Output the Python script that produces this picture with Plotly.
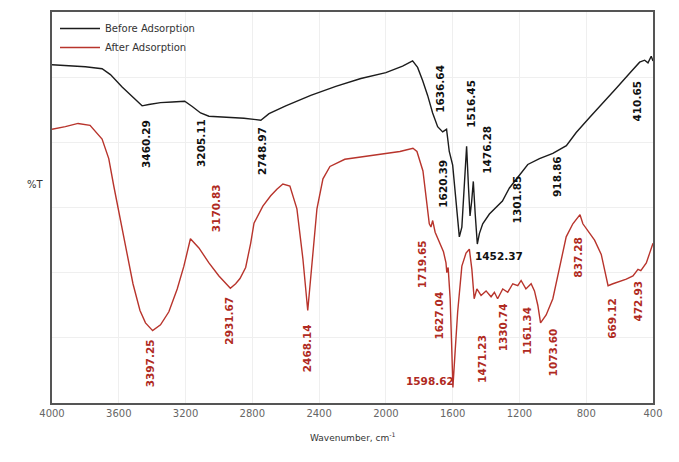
import plotly.graph_objects as go

# FTIR spectra: wavenumber (cm-1) vs transmittance (%T, arbitrary offset scale)
before_wn = [4000, 3900, 3800, 3700, 3650, 3580, 3520, 3460.29, 3420, 3350, 3280, 3205.11,
             3160, 3110, 3060, 2950, 2850, 2748.97, 2700, 2600, 2450, 2300, 2150, 2000, 1900,
             1840, 1810, 1780, 1750, 1720, 1690, 1660, 1636.64, 1628, 1620.39, 1600, 1580,
             1560, 1545, 1530, 1516.45, 1505, 1496, 1486, 1476.28, 1465, 1452.37, 1440, 1420,
             1380, 1340, 1301.85, 1260, 1200, 1150, 1080, 1000, 918.86, 860, 780, 700, 620,
             540, 480, 450, 430, 410.65, 400]
before_t = [51.9, 51.8, 51.6, 51.3, 50.4, 48.5, 47.0, 45.6, 45.8, 46.1, 46.2, 46.3,
            45.5, 44.5, 44.0, 43.8, 43.7, 43.4, 44.4, 45.6, 47.2, 48.6, 49.8, 50.7, 51.7,
            52.5, 51.5, 49.5, 47.2, 44.5, 42.4, 41.6, 42.0, 40.2, 38.6, 36.5, 31.5,
            25.5, 27.0, 33.0, 39.4, 33.0, 28.7, 31.0, 34.0, 29.0, 24.4, 26.0, 27.5,
            29.0, 30.0, 31.0, 33.0, 35.0, 36.6, 37.5, 38.3, 39.5, 41.5, 43.8, 46.0, 48.3,
            50.6, 52.3, 52.6, 52.2, 53.2, 52.5]

after_wn = [4000, 3920, 3844, 3772, 3700, 3660, 3630, 3593, 3551, 3515, 3473, 3440, 3397.25,
            3350, 3300, 3250, 3210, 3170.83, 3120, 3060, 3000, 2960, 2931.67, 2900, 2874, 2840,
            2810, 2790, 2737, 2690, 2653, 2617, 2575, 2533, 2497, 2468.14, 2413, 2377, 2335,
            2246, 2096, 1916, 1838, 1814, 1778, 1760, 1740, 1730, 1719.65, 1705, 1680, 1655,
            1640, 1635, 1627.04, 1615, 1605, 1598.62, 1585, 1570, 1545, 1520, 1500, 1485,
            1471.23, 1455, 1430, 1400, 1370, 1350, 1330.74, 1300, 1270, 1240, 1210, 1190,
            1161.34, 1130, 1110, 1090, 1073.60, 1040, 1000, 960, 920, 880, 850, 837.28, 820,
            790, 750, 710, 690, 669.12, 640, 600, 560, 520, 490, 472.93, 440, 420, 400]
after_t = [42.0, 42.4, 42.9, 42.6, 40.5, 37.5, 33.3, 28.4, 23.4, 18.3, 14.2, 12.3, 11.1,
           12.0, 14.0, 17.5, 21.0, 25.2, 23.8, 21.5, 19.5, 18.3, 17.6, 18.3, 19.1, 20.8,
           24.5, 27.6, 30.2, 31.8, 32.8, 33.6, 33.3, 29.8, 22.1, 14.2, 29.8, 34.4, 36.3,
           37.4, 37.9, 38.6, 39.1, 38.6, 35.6, 32.0, 27.5, 27.0, 28.0, 26.2, 24.8, 23.2,
           21.5, 20.0, 20.8, 16.0, 8.0, 2.4, 8.0, 14.0, 21.0, 23.0, 23.6, 20.5,
           16.0, 17.5, 16.5, 17.2, 16.3, 17.0, 16.0, 17.5, 17.0, 18.3, 18.0, 18.8,
           17.5, 18.3, 17.2, 15.0, 12.3, 13.5, 16.0, 21.0, 25.5, 27.5, 28.5, 28.9, 27.5,
           26.5, 25.0, 22.8, 20.5, 18.0, 18.3, 18.6, 19.0, 19.5, 20.5, 20.3, 21.5, 23.0, 24.5]

# peak labels (wavenumbers) for each spectrum
before_peaks = [3460.29, 3205.11, 2748.97, 1636.64, 1620.39, 1516.45, 1476.28, 1452.37,
                1301.85, 918.86, 410.65]
after_peaks = [3397.25, 3170.83, 2931.67, 2468.14, 1719.65, 1627.04, 1598.62, 1471.23,
               1330.74, 1161.34, 1073.60, 837.28, 669.12, 472.93]

x_ticks = [4000, 3600, 3200, 2800, 2400, 2000, 1600, 1200, 800, 400]

# label placement: (xshift, yshift, angle) in pixels relative to the labelled point
before_place = [(4, -38, -90), (17, -42, -90), (1, -31, -90), (-6, 40, -90), (-6, -32, -90),
                (5, 42, -90), (14, 32, -90), (22, -12, 0), (15, 2, -90), (-10, -31, -90),
                (-14, -45, -90)]
after_place = [(-3, -33, -90), (25, 31, -90), (-1, -32, -90), (0, -38, -90), (-11, -44, -90),
               (-9, -48, -90), (-23, 6, 0), (8, -60, -90), (5, -29, -90), (1, -42, -90),
               (12, -30, -90), (-2, -43, -90), (4, -33, -90), (-3, -30, -90)]

BLACK = "#1c1c1c"
RED = "#b8342c"
FONT = "DejaVu Sans"

fig = go.Figure()
fig.add_trace(go.Scatter(x=before_wn, y=before_t, mode="lines", name="Before Adsorption",
                         line=dict(color=BLACK, width=1.4)))
fig.add_trace(go.Scatter(x=after_wn, y=after_t, mode="lines", name="After Adsorption",
                         line=dict(color=RED, width=1.4)))

annotations = []
for wn_list, t_list, peaks, place, col in [
    (before_wn, before_t, before_peaks, before_place, "#111111"),
    (after_wn, after_t, after_peaks, after_place, "#b02a22"),
]:
    for p, (dx, dy, ang) in zip(peaks, place):
        t = t_list[wn_list.index(p)]
        annotations.append(dict(
            x=p, y=t, xref="x", yref="y", text=f"{p:.2f}", showarrow=False,
            textangle=ang, xanchor="center", yanchor="middle", xshift=dx, yshift=dy,
            font=dict(family=FONT, size=10.5, color=col, weight="bold"),
        ))

annotations.append(dict(text="%T", xref="paper", yref="paper", x=-0.045, y=0.56,
                        showarrow=False, font=dict(family=FONT, size=10, color="#333")))
annotations.append(dict(text="Wavenumber, cm<sup>-1</sup>", xref="paper", yref="paper",
                        x=0.5, y=-0.087, showarrow=False, xanchor="center", yanchor="middle",
                        font=dict(family=FONT, size=9, color="#333")))

fig.update_layout(
    width=679, height=462,
    margin=dict(l=52, r=26, t=10, b=59),
    paper_bgcolor="white", plot_bgcolor="white",
    showlegend=True,
    legend=dict(x=0.005, y=0.995, xanchor="left", yanchor="top", bgcolor="rgba(0,0,0,0)",
                font=dict(family=FONT, size=10, color="#333"), tracegroupgap=0,
                itemwidth=40),
    annotations=annotations,
    xaxis=dict(range=[4000, 400], tickvals=x_ticks, ticks="", showgrid=True,
               gridcolor="#efefef", zeroline=False, showline=True, mirror=True,
               linecolor="#555", linewidth=1.5,
               tickfont=dict(family=FONT, size=10, color="#666")),
    yaxis=dict(range=[0, 60], dtick=10, showticklabels=False, ticks="", showgrid=True,
               gridcolor="#efefef", zeroline=False, showline=True, mirror=True,
               linecolor="#555", linewidth=1.5),
)

fig.write_html("out.html")
